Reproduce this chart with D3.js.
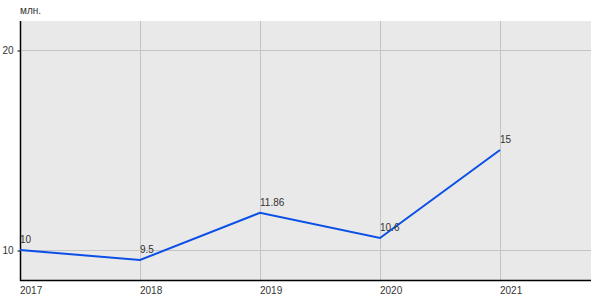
<!DOCTYPE html>
<html>
<head>
<meta charset="utf-8">
<script src="https://cdn.jsdelivr.net/npm/d3@7"></script>
<style>
    body { margin: 0; background: #fff; }
    text { font-family: "Liberation Sans", Arial, sans-serif; }
</style>
</head>
<body>
<svg width="600" height="300"></svg>
<script>
let years = [2017, 2018, 2019, 2020, 2021];
let values = [10, 9.5, 11.86, 10.6, 15];
let labels = ["10", "9.5", "11.86", "10.6", "15"];
let yTicks = [10, 20];
let unitLabel = "млн.";

let svg = d3.select("svg");

let area = { left: 20, right: 591, top: 21, bottom: 280 };

let scaleX = d3.scaleLinear()
    .domain([2017, 2021 + (area.right - 500) / 120])
    .range([area.left, area.right]);

let scaleY = d3.scaleLinear()
    .domain([10 - (area.bottom - 250) / 20, 20 + (50 - area.top) / 20])
    .range([area.bottom, area.top]);

// plot background
svg.append("rect")
    .attr("x", area.left)
    .attr("y", area.top)
    .attr("width", area.right - area.left)
    .attr("height", area.bottom - area.top)
    .style("fill", "#e9e9e9");

// grid
svg.selectAll(".grid-x")
    .data(years)
    .enter()
    .append("line")
    .attr("x1", d => Math.round(scaleX(d)) + 0.5)
    .attr("x2", d => Math.round(scaleX(d)) + 0.5)
    .attr("y1", area.top)
    .attr("y2", area.bottom)
    .style("stroke", "#c4c4c4")
    .style("stroke-width", 1);

svg.selectAll(".grid-y")
    .data(yTicks)
    .enter()
    .append("line")
    .attr("x1", area.left)
    .attr("x2", area.right)
    .attr("y1", d => Math.round(scaleY(d)) + 0.5)
    .attr("y2", d => Math.round(scaleY(d)) + 0.5)
    .style("stroke", "#c4c4c4")
    .style("stroke-width", 1);

// axes
let axisY = d3.axisLeft(scaleY).tickValues(yTicks).tickSize(3).tickFormat(d3.format("d"));
let gY = svg.append("g")
    .attr("transform", `translate(${area.left + 0.5}, 0.5)`)
    .call(axisY);
gY.select(".domain").remove();
gY.selectAll("line").style("stroke", "#000");
gY.selectAll("text")
    .attr("x", -7)
    .style("font-size", "10px")
    .style("fill", "#333")
    .style("font-family", "Liberation Sans, Arial, sans-serif");

svg.append("line")
    .attr("x1", area.left + 0.5).attr("x2", area.left + 0.5)
    .attr("y1", area.top).attr("y2", area.bottom + 1)
    .style("stroke", "#000").style("stroke-width", 1.5);

svg.append("line")
    .attr("x1", area.left).attr("x2", area.right)
    .attr("y1", area.bottom + 0.5).attr("y2", area.bottom + 0.5)
    .style("stroke", "#000").style("stroke-width", 1.5);

svg.selectAll(".label-x")
    .data(years)
    .enter()
    .append("text")
    .attr("x", d => scaleX(d))
    .attr("y", 294)
    .style("font-size", "10px")
    .style("fill", "#333")
    .text(d => d);

svg.append("text")
    .attr("x", 20)
    .attr("y", 14)
    .style("font-size", "10px")
    .style("fill", "#333")
    .text(unitLabel);

// line
let data = years.map((y, i) => ({ year: y, value: values[i], label: labels[i] }));

let line = d3.line()
    .x(d => scaleX(d.year))
    .y(d => scaleY(d.value));

svg.append("path")
    .datum(data)
    .attr("fill", "none")
    .attr("stroke", "#0a4fe6")
    .attr("stroke-width", 2)
    .attr("d", line);

svg.selectAll(".val")
    .data(data)
    .enter()
    .append("text")
    .attr("x", d => scaleX(d.year))
    .attr("y", d => scaleY(d.value) - 7)
    .style("font-size", "10px")
    .style("fill", "#333")
    .text(d => d.label);
</script>
</body>
</html>
